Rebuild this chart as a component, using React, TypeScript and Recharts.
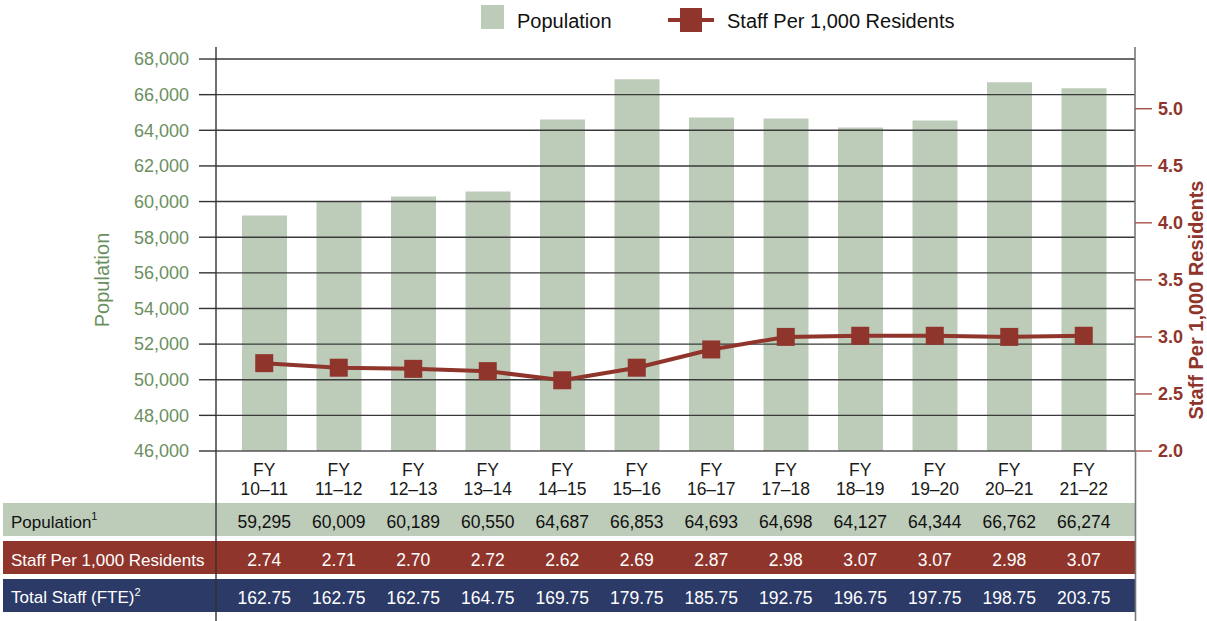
import React from 'react';
import { ComposedChart, Bar, Line, XAxis, YAxis, ReferenceLine } from 'recharts';

const categories = ['10–11', '11–12', '12–13', '13–14', '14–15', '15–16', '16–17', '17–18', '18–19', '19–20', '20–21', '21–22'];
const populationBars = [59213, 60000, 60281, 60562, 64610, 66859, 64723, 64666, 64160, 64554, 66690, 66353];
const staffLine = [2.77, 2.73, 2.72, 2.70, 2.62, 2.73, 2.89, 3.0, 3.01, 3.01, 3.0, 3.01];
const populationTable = ['59,295', '60,009', '60,189', '60,550', '64,687', '66,853', '64,693', '64,698', '64,127', '64,344', '66,762', '66,274'];
const staffTable = ['2.74', '2.71', '2.70', '2.72', '2.62', '2.69', '2.87', '2.98', '3.07', '3.07', '2.98', '3.07'];
const totalStaffTable = ['162.75', '162.75', '162.75', '164.75', '169.75', '179.75', '185.75', '192.75', '196.75', '197.75', '198.75', '203.75'];
const leftTicks = [46000, 48000, 50000, 52000, 54000, 56000, 58000, 60000, 62000, 64000, 66000, 68000];
const rightTicks = [2, 2.5, 3, 3.5, 4, 4.5, 5];

const GREEN_BAR = '#bdcbb9';
const RED = '#8f352b';
const NAVY = '#2b3a67';
const GREEN_TEXT = '#6b8f60';
const FONT = '"Liberation Sans", Arial, Helvetica, sans-serif';

const data = categories.map((c, i) => ({ fy: c, population: populationBars[i], staff: staffLine[i] }));

const TableTick = (props: any) => {
  const { x, y, payload } = props;
  let i = typeof props.index === 'number' ? props.index : categories.indexOf(payload.value);
  if (i < 0) i = categories.indexOf(payload.value);
  const fs = 17.5;
  return (
    <g>
      <text x={x} y={y + 25} textAnchor="middle" fontSize={fs} fill="#1a1a1a">FY</text>
      <text x={x} y={y + 44} textAnchor="middle" fontSize={fs} fill="#1a1a1a">{categories[i]}</text>
      <text x={x} y={y + 77} textAnchor="middle" fontSize={fs} fill="#111">{populationTable[i]}</text>
      <text x={x} y={y + 115} textAnchor="middle" fontSize={fs} fill="#fff">{staffTable[i]}</text>
      <text x={x} y={y + 152.5} textAnchor="middle" fontSize={fs} fill="#fff">{totalStaffTable[i]}</text>
    </g>
  );
};

const SquareDot = (props: any) => {
  const { cx, cy, index } = props;
  if (cx == null || cy == null) return <g key={`d-${index}`} />;
  return <rect key={`d-${index}`} x={cx - 9} y={cy - 9} width={18} height={18} fill={RED} />;
};

export default function App() {
  return (
    <div style={{ position: 'absolute', left: 0, top: 0, width: 1207, height: 621, fontFamily: FONT, background: '#fff', overflow: 'hidden' }}>
      {/* table row backgrounds */}
      <div style={{ position: 'absolute', left: 3, top: 503, width: 1133, height: 33, background: GREEN_BAR }} />
      <div style={{ position: 'absolute', left: 3, top: 541, width: 1133, height: 33, background: RED }} />
      <div style={{ position: 'absolute', left: 3, top: 579, width: 1133, height: 33, background: NAVY }} />

      <div style={{ position: 'absolute', left: 0, top: 0 }}>
        <ComposedChart width={1207} height={621} data={data} margin={{ top: 47, right: 0, bottom: 0, left: 0 }} barCategoryGap={0}>
          <XAxis
            dataKey="fy"
            height={170}
            interval={0}
            tickLine={false}
            tickSize={0}
            tickMargin={0}
            padding={{ left: 11, right: 14 }}
            axisLine={{ stroke: '#555', strokeWidth: 1.5 }}
            tick={<TableTick />}
          />
          <YAxis
            yAxisId="left"
            orientation="left"
            width={216}
            type="number"
            domain={[46000, 68675]}
            ticks={leftTicks}
            interval={0}
            tickSize={17}
            tickMargin={10}
            tickFormatter={(v: number) => v.toLocaleString('en-US')}
            tick={{ fill: GREEN_TEXT, fontSize: 18 }}
            axisLine={{ stroke: '#333', strokeWidth: 1.4 }}
            tickLine={{ stroke: '#333', strokeWidth: 1.4 }}
          />
          <YAxis
            yAxisId="right"
            orientation="right"
            width={72}
            type="number"
            domain={[2, 5.541]}
            ticks={rightTicks}
            interval={0}
            tickSize={17}
            tickMargin={6}
            tickFormatter={(v: number) => v.toFixed(1)}
            tick={{ fill: RED, fontSize: 18, fontWeight: 'bold' }}
            axisLine={{ stroke: '#777', strokeWidth: 1.6 }}
            tickLine={{ stroke: '#a8504a', strokeWidth: 1.4 }}
          />
          {leftTicks.slice(1).map((t) => (
            <ReferenceLine key={`g-${t}`} yAxisId="left" y={t} stroke="#3a3a3a" strokeWidth={1.4} />
          ))}
          <Bar yAxisId="left" dataKey="population" fill={GREEN_BAR} barSize={45} isAnimationActive={false} />
          <Line
            yAxisId="right"
            dataKey="staff"
            type="linear"
            stroke={RED}
            strokeWidth={4}
            dot={(p: any) => <SquareDot key={`dot-${p.index}`} {...p} />}
            activeDot={false}
            isAnimationActive={false}
          />
        </ComposedChart>
      </div>

      <svg width={1207} height={621} style={{ position: 'absolute', left: 0, top: 0, pointerEvents: 'none' }}>
        {/* axis line extensions through the table */}
        <line x1={216} y1={451} x2={216} y2={621} stroke="#333" strokeWidth={1.4} />
        <line x1={1135.5} y1={451} x2={1135.5} y2={621} stroke="#777" strokeWidth={1.6} />

        {/* axis titles */}
        <text transform="translate(109,280) rotate(-90)" textAnchor="middle" fontSize={20} fill={GREEN_TEXT}>Population</text>
        <text transform="translate(1203,300) rotate(-90)" textAnchor="middle" fontSize={20} fontWeight="bold" fill={RED}>Staff Per 1,000 Residents</text>

        {/* row labels */}
        <text x={11} y={527.7} fontSize={17} fill="#111">Population<tspan dy={-8} fontSize={11}>1</tspan></text>
        <text x={11} y={566} fontSize={17} fill="#fff">Staff Per 1,000 Residents</text>
        <text x={11} y={603.3} fontSize={17} fill="#fff">Total Staff (FTE)<tspan dy={-7} fontSize={11}>2</tspan></text>

        {/* legend */}
        <rect x={481} y={5} width={23} height={24} fill={GREEN_BAR} />
        <text x={517} y={28} fontSize={20} fill="#111">Population</text>
        <line x1={668} y1={20} x2={714} y2={20} stroke={RED} strokeWidth={4} />
        <rect x={680} y={8} width={22} height={24} fill={RED} />
        <text x={727} y={28} fontSize={20} fill="#111">Staff Per 1,000 Residents</text>
      </svg>
    </div>
  );
}
